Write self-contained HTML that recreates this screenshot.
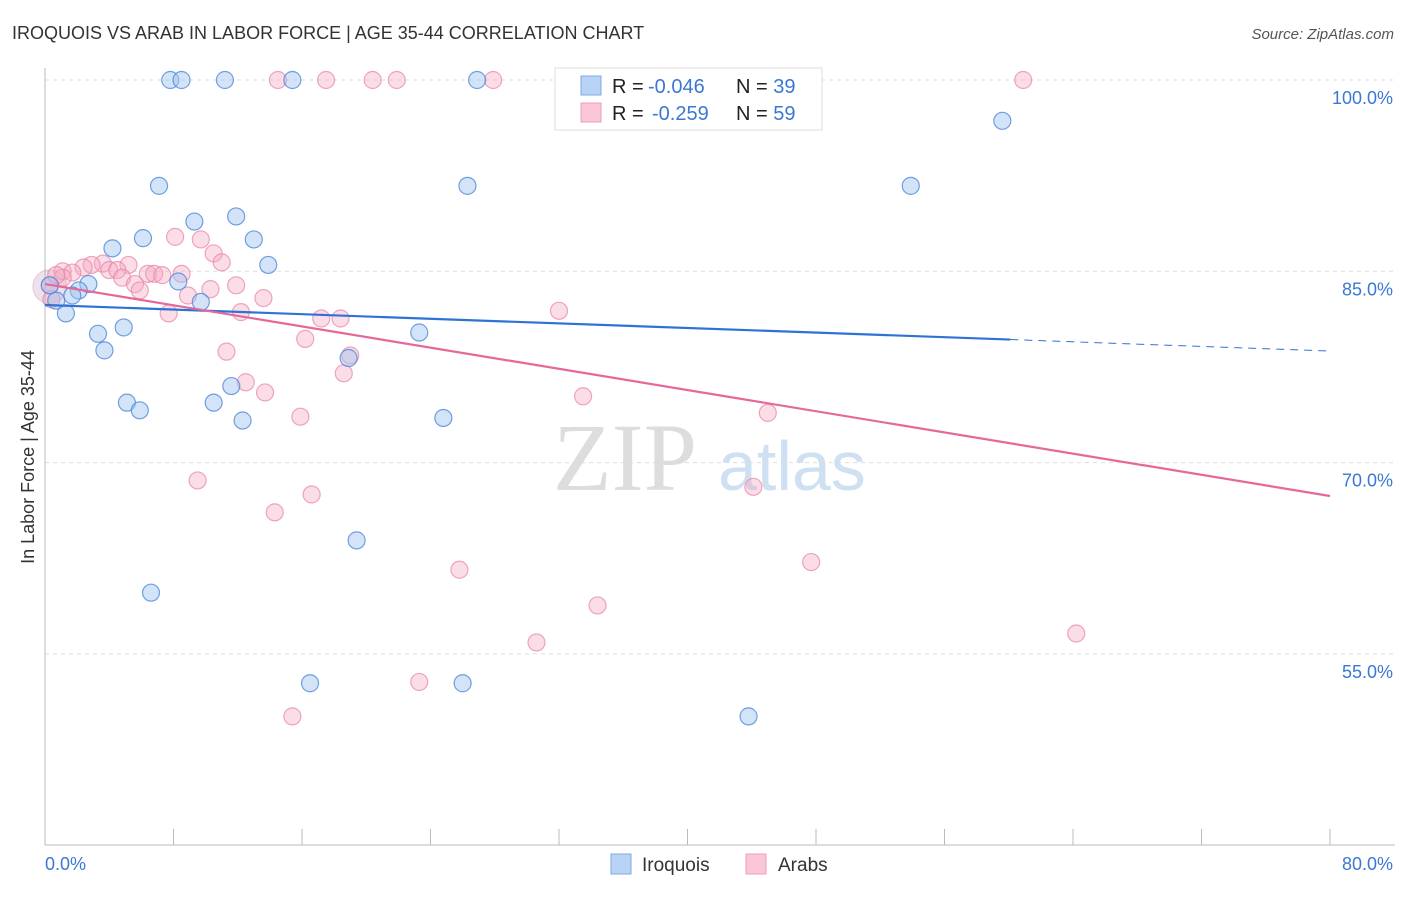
<!DOCTYPE html>
<html><head><meta charset="utf-8"><style>
body{margin:0;background:#fff;font-family:"Liberation Sans",sans-serif}
</style></head><body>
<svg id="c" width="1406" height="892" xmlns="http://www.w3.org/2000/svg">
<text x="12" y="39" font-size="18" fill="#333">IROQUOIS VS ARAB IN LABOR FORCE | AGE 35-44 CORRELATION CHART</text>
<text x="1394" y="39" font-size="15" fill="#555" font-style="italic" text-anchor="end">Source: ZipAtlas.com</text>
<text x="553" y="490" font-size="96" fill="#ddd" font-family="Liberation Serif">ZIP</text>
<text x="718" y="490" font-size="70" fill="#cfe0f3">atlas</text>
<text transform="translate(34,457) rotate(-90)" font-size="18" fill="#333" text-anchor="middle">In Labor Force | Age 35-44</text>
<g id="grid"></g><g id="pts"></g><g id="lines"></g>
<g>
<rect x="555" y="68" width="267" height="62" fill="#fff" stroke="#ddd"/>
<rect x="581" y="76" width="20" height="19" fill="#b8d3f5" stroke="#7fa9e0"/>
<rect x="581" y="103" width="20" height="19" fill="#fac5d5" stroke="#ee9fb8"/>
<text x="612" y="93" font-size="20" fill="#222">R = <tspan fill="#3a78d4" x="648">-0.046</tspan><tspan x="736">N = </tspan><tspan fill="#3a78d4">39</tspan></text>
<text x="612" y="120" font-size="20" fill="#222">R = <tspan fill="#3a78d4" x="652">-0.259</tspan><tspan x="736">N = </tspan><tspan fill="#3a78d4">59</tspan></text>
</g>
<g>
<rect x="611" y="854" width="20" height="20" fill="#b8d3f5" stroke="#7fa9e0"/>
<text x="642" y="871" font-size="19" fill="#333">Iroquois</text>
<rect x="746" y="854" width="20" height="20" fill="#fac5d5" stroke="#ee9fb8"/>
<text x="778" y="871" font-size="19" fill="#333">Arabs</text>
</g>
</svg>
<script>
const yTicks=[100,85,70,55];
const yTickLabels=["100.0%","85.0%","70.0%","55.0%"];
const xTickLabels=["0.0%","80.0%"];
const blueX=[7.8,8.5,11.2,15.4,26.9,59.6,7.1,26.3,53.9,9.3,11.9,6.1,13.0,4.2,13.9,8.3,2.7,2.1,1.7,0.7,9.7,1.3,3.3,4.9,23.3,3.7,18.9,11.6,5.1,10.5,5.9,12.3,24.8,19.4,6.6,16.5,26.0,43.8,0.3];
const blueY=[100,100,100,100,100,96.8,91.7,91.7,91.7,88.9,89.3,87.6,87.5,86.8,85.5,84.2,84.0,83.5,83.1,82.7,82.6,81.7,80.1,80.6,80.2,78.8,78.2,76.0,74.7,74.7,74.1,73.3,73.5,63.9,59.8,52.7,52.7,50.1,83.9];
const pinkX=[14.5,17.5,20.4,21.9,27.9,47.1,60.9,8.1,9.7,10.5,11.0,5.2,3.6,2.9,2.4,1.1,1.7,4.0,4.5,6.4,6.8,7.3,8.5,4.8,5.6,5.9,8.9,10.3,11.9,13.6,12.2,7.7,17.2,18.4,32.0,16.2,11.3,19.0,18.6,12.5,13.7,33.5,45.0,15.9,9.5,44.1,16.6,14.3,47.7,25.8,34.4,30.6,64.2,23.3,15.4,0.3,0.4,1.1,0.7];
const pinkY=[100,100,100,100,100,100,100,87.7,87.5,86.4,85.7,85.5,85.6,85.5,85.3,85.0,84.9,85.1,85.1,84.8,84.8,84.7,84.8,84.5,84.0,83.5,83.1,83.6,83.9,82.9,81.8,81.7,81.3,81.3,81.9,79.7,78.7,78.4,77.0,76.3,75.5,75.2,73.9,73.6,68.6,68.1,67.5,66.1,62.2,61.6,58.8,55.9,56.6,52.8,50.1,83.9,82.8,84.5,84.7];
const blueLine=[82.36,78.75];
const pinkLine=[84.0,67.38];
const NS="http://www.w3.org/2000/svg";
const X=v=>45+v/80*1285, Y=v=>80+(100-v)/15*191.3;
function mk(t,a,p){const e=document.createElementNS(NS,t);for(const k in a)e.setAttribute(k,a[k]);p.appendChild(e);return e;}
const g=document.getElementById('grid');
yTicks.forEach((t,i)=>{
 const l=mk('line',{x1:45,x2:1395,y1:Y(t),y2:Y(t),stroke:'#ddd','stroke-dasharray':'4,4'},g);
 
 
 const tx=mk('text',{x:1393,y:Y(t)+24,'font-size':18,fill:'#3a78d4','text-anchor':'end'},g);
 tx.textContent=yTickLabels[i];
 
 
});
const ax=mk('line',{x1:45,x2:45,y1:68,y2:845,stroke:'#bbb'},g);


const bx=mk('line',{x1:45,x2:1395,y1:845,y2:845,stroke:'#bbb'},g);


for(let i=0;i<=10;i++){const t=mk('line',{x1:X(i*8),x2:X(i*8),y1:829,y2:845,stroke:'#bbb'},g);
 
 }
[[0,'start'],[80,'end']].forEach((d,i)=>{const t=mk('text',{x:X(d[0])+(i?63:0),y:870,'font-size':18,fill:'#3a78d4','text-anchor':d[1]},g);t.textContent=xTickLabels[i];
 
 });
const p=document.getElementById('pts');
const big=mk('circle',{cx:X(0.3),cy:Y(83.8),r:17,fill:'rgba(200,170,200,0.35)',stroke:'rgba(220,140,170,0.4)'},p);


pinkX.forEach((v,i)=>{const c=mk('circle',{cx:X(v),cy:Y(pinkY[i]),r:8.5,fill:'rgba(245,170,195,0.4)',stroke:'rgba(232,130,165,0.7)','stroke-width':1.2},p);
 
 });
blueX.forEach((v,i)=>{const c=mk('circle',{cx:X(v),cy:Y(blueY[i]),r:8.5,fill:'rgba(160,195,240,0.45)',stroke:'rgba(70,130,215,0.75)','stroke-width':1.2},p);
 
 });
const L=document.getElementById('lines');
const bAt=x=>blueLine[0]+(blueLine[1]-blueLine[0])*x/80;
const b1=mk('line',{x1:X(0),y1:Y(bAt(0)),x2:X(60.1),y2:Y(bAt(60.1)),stroke:'#2f72d6','stroke-width':2.2},L);


const b2=mk('line',{x1:X(60.1),y1:Y(bAt(60.1)),x2:X(80),y2:Y(bAt(80)),stroke:'#2f72d6','stroke-width':1,'stroke-dasharray':'8,6'},L);


const pl=mk('line',{x1:X(0),y1:Y(pinkLine[0]),x2:X(80),y2:Y(pinkLine[1]),stroke:'#e5689a','stroke-width':2.2},L);


</script>
</body></html>
